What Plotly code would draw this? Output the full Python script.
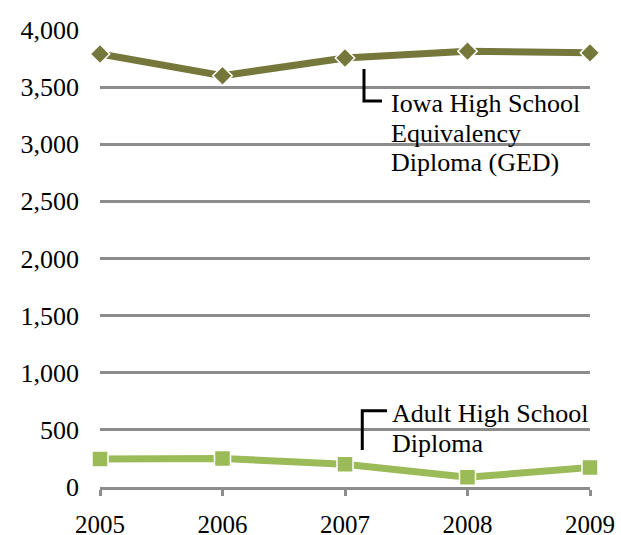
import plotly.graph_objects as go

years = [2005, 2006, 2007, 2008, 2009]
ged = [3790, 3600, 3755, 3815, 3800]
adult = [245, 250, 200, 85, 170]
y_ticks = [0, 500, 1000, 1500, 2000, 2500, 3000, 3500, 4000]
ged_label = ["Iowa High School", "Equivalency", "Diploma (GED)"]
adult_label = ["Adult High School", "Diploma"]

GED_COLOR = "#76773A"
ADULT_COLOR = "#9BBB59"
GRID = "#8C8C8C"
FONT = "Liberation Serif, Times New Roman, serif"

fig = go.Figure()
fig.add_trace(go.Scatter(
    x=years, y=ged, mode="lines+markers", cliponaxis=False,
    line=dict(color=GED_COLOR, width=7),
    marker=dict(symbol="diamond", size=15, color=GED_COLOR, line=dict(color="white", width=1.5)),
    showlegend=False))
fig.add_trace(go.Scatter(
    x=years, y=adult, mode="lines+markers", cliponaxis=False,
    line=dict(color=ADULT_COLOR, width=7),
    marker=dict(symbol="square", size=16, color=ADULT_COLOR, line=dict(color="white", width=1.5)),
    showlegend=False))

# label lines, spaced like the reference (approx 30 px apart)
for txt, yv in zip(ged_label, [3361, 3098, 2836]):
    fig.add_annotation(x=2007.362, y=yv, xref="x", yref="y", xanchor="left", yanchor="middle",
                       text=txt, showarrow=False, align="left",
                       font=dict(family=FONT, size=26, color="black"))
for txt, yv in zip(adult_label, [640, 378]):
    fig.add_annotation(x=2007.365, y=yv, xref="x", yref="y", xanchor="left", yanchor="middle",
                       text=txt, showarrow=False, align="left",
                       font=dict(family=FONT, size=26, color="black"))

# leader lines
fig.add_shape(type="path", xref="x", yref="y",
              path="M 2007.155 3659 L 2007.155 3379 L 2007.302 3379",
              line=dict(color="black", width=3))
fig.add_shape(type="path", xref="x", yref="y",
              path="M 2007.141 324 L 2007.141 668 L 2007.343 668",
              line=dict(color="black", width=3))

fig.update_layout(
    width=621, height=535,
    margin=dict(l=100, r=31, t=30, b=48),
    plot_bgcolor="white", paper_bgcolor="white",
    font=dict(family=FONT, size=26, color="black"),
    xaxis=dict(range=[2005, 2009], tickvals=years, ticktext=[str(y) for y in years],
               automargin=False, tickfont=dict(size=25),
               showgrid=False, zeroline=False, showline=True, linecolor=GRID, linewidth=3,
               ticks="outside", tickcolor=GRID, tickwidth=3, ticklen=6, ticklabelstandoff=7),
    yaxis=dict(range=[0, 4000], tickvals=y_ticks, tickformat=",", showgrid=True,
               automargin=False,
               gridcolor=GRID, gridwidth=3, zeroline=False, showline=False,
               ticks="", ticklabelstandoff=20),
)

fig.write_html("out.html", config={"displayModeBar": False})
with open("out.html", "r", encoding="utf-8") as f:
    html = f.read()
html = html.replace("<head>", "<head><style>html,body{margin:0;padding:0;overflow:hidden;}</style>", 1)
with open("out.html", "w", encoding="utf-8") as f:
    f.write(html)
